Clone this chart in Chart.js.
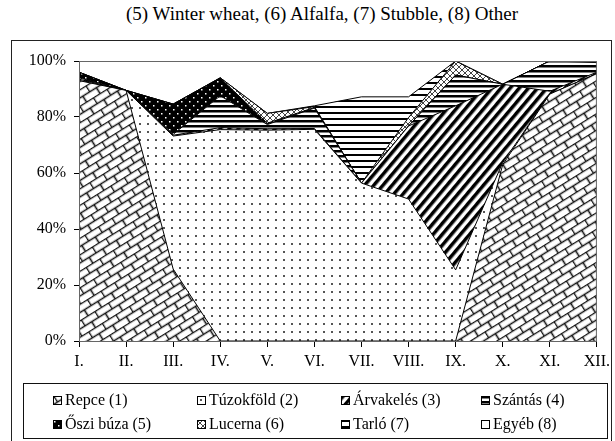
<!DOCTYPE html>
<html>
<head>
<meta charset="utf-8">
<script src="https://cdn.jsdelivr.net/npm/chart.js@4.4.1/dist/chart.umd.min.js"></script>
<style>
  body { margin: 0; width: 615px; height: 441px; overflow: hidden; background: #fff; position: relative;
         font-family: "Liberation Serif", "Times New Roman", serif; color: #000; }
  #title { position: absolute; left: 0; top: 3px; width: 644px; text-align: center; font-size: 19px; }
  #frame { position: absolute; left: 11px; top: 40px; width: 599px; height: 420px; border: 1px solid #222; }
  #wrap { position: absolute; left: 0; top: 40px; width: 615px; height: 345px; }
  #legend { position: absolute; left: 23px; top: 383px; width: 583px; height: 54px; border: 1px solid #111; font-size: 16px; }
  .item { position: absolute; display: flex; align-items: center; white-space: nowrap; }
  .item canvas { margin-right: 3px; }
</style>
</head>
<body>
<div id="title">(5) Winter wheat, (6) Alfalfa, (7) Stubble, (8) Other</div>
<div id="frame"></div>
<div id="wrap"><canvas id="chart" width="615" height="345"></canvas></div>
<div id="legend"></div>
<script>
// months
const months = ['I.', 'II.', 'III.', 'IV.', 'V.', 'VI.', 'VII.', 'VIII.', 'IX.', 'X.', 'XI.', 'XII.'];

// share of each land use per month (%)
const repce     = [93, 89.5, 25.7, 0, 0, 0, 0, 0, 0, 63, 88.2, 95.5];
const tuzokfold = [0, 0, 47.5, 75.5, 75.3, 75.6, 56.4, 50.7, 25.4, 0.7, 0, 0];
const arvakeles = [0.5, 0, 0.3, 0.7, 0.5, 0.3, 0, 26.1, 58.6, 28, 1, 0.5];
const szantas   = [0.5, 0, 0.3, 11.4, 1.5, 7.3, 0, 0, 11, 0, 10.8, 3.5];
const osziBuza  = [2, 0, 10.8, 6.3, 0.5, 0.2, 0, 0, 0, 0, 0, 0];
const lucerna   = [0, 0, 0, 0.1, 3.5, 0.3, 0, 3, 5, 0, 0, 0];
const tarlo     = [0, 0, 0, 0, 0, 0.3, 30.8, 7.4, 0, 0, 0, 0];
const egyeb     = [4, 10.5, 15.4, 6, 18.7, 16, 12.8, 12.8, 0, 8.3, 0, 0.5];

const names = ['Repce (1)', 'Túzokföld (2)', 'Árvakelés (3)', 'Szántás (4)',
               'Őszi búza (5)', 'Lucerna (6)', 'Tarló (7)', 'Egyéb (8)'];
const series = [repce, tuzokfold, arvakeles, szantas, osziBuza, lucerna, tarlo, egyeb];

const ctx = document.getElementById('chart').getContext('2d');

// small tiles for the black & white fill patterns
function tile(w, h, draw, bg) {
  const c = document.createElement('canvas');
  c.width = w; c.height = h;
  const g = c.getContext('2d');
  g.fillStyle = bg || '#fff';
  g.fillRect(0, 0, w, h);
  draw(g);
  return c;
}
function pattern(c, angle) {
  const p = ctx.createPattern(c, 'repeat');
  if (angle) p.setTransform(new DOMMatrix().rotate(angle));
  return p;
}

const brick = tile(16, 14, g => {
  g.strokeStyle = '#111'; g.lineWidth = 1.6;
  g.beginPath();
  g.moveTo(0, 0.5); g.lineTo(16, 0.5);
  g.moveTo(0, 7.5); g.lineTo(16, 7.5);
  g.moveTo(0.5, 0); g.lineTo(0.5, 7.5);
  g.moveTo(8.5, 7.5); g.lineTo(8.5, 14);
  g.stroke();
});
const dots = tile(8, 8, g => { g.fillStyle = '#555'; g.fillRect(3, 3, 2, 2); });
const diag = tile(8, 7, g => { g.fillStyle = '#000'; g.fillRect(0, 0, 8, 3.5); });
const hBold = tile(4, 5, g => { g.fillStyle = '#000'; g.fillRect(0, 0, 4, 2.5); });
const blackDots = tile(8, 8, g => { g.fillStyle = '#fff'; g.fillRect(1, 1, 1.5, 1.5); g.fillRect(5, 5, 1.5, 1.5); }, '#000');
const cross = tile(6, 6, g => {
  g.strokeStyle = '#444'; g.lineWidth = 1;
  g.beginPath(); g.moveTo(0, 0); g.lineTo(6, 6); g.moveTo(6, 0); g.lineTo(0, 6); g.stroke();
});
const hThin = tile(4, 6, g => { g.fillStyle = '#000'; g.fillRect(0, 0, 4, 2); });

const fills = [
  pattern(brick, -32),
  pattern(dots),
  pattern(diag, -50),
  pattern(hBold),
  pattern(blackDots),
  pattern(cross),
  pattern(hThin),
  '#ffffff'
];

const font = { family: '"Liberation Serif", "Times New Roman", serif', size: 16 };

// grey box round the plot area
const plotBox = {
  id: 'plotBox',
  afterDatasetsDraw(chart) {
    const { ctx: c, chartArea: a } = chart;
    c.save();
    c.strokeStyle = '#666';
    c.lineWidth = 1;
    c.strokeRect(a.left + 0.5, a.top + 0.5, a.right - a.left - 1, a.bottom - a.top);
    c.restore();
  }
};

new Chart(ctx, {
  type: 'line',
  data: {
    labels: months,
    datasets: series.map((d, i) => ({
      label: names[i],
      data: d,
      fill: i === 0 ? 'origin' : '-1',
      backgroundColor: fills[i],
      borderColor: '#000',
      borderWidth: i === 7 ? 0 : 1,
      pointRadius: 0,
      tension: 0
    }))
  },
  options: {
    responsive: false,
    animation: false,
    devicePixelRatio: 1,
    layout: { padding: { top: 21, right: 16, left: 0, bottom: 0 } },
    scales: {
      x: {
        z: 1,
        grid: { drawOnChartArea: false, tickLength: 6, color: '#000' },
        border: { color: '#000' },
        ticks: { color: '#000', font: font, padding: 5, maxRotation: 0, autoSkip: false },
        afterFit: s => { s.height = 44; }
      },
      y: {
        z: 1,
        stacked: true,
        min: 0,
        max: 100,
        grid: { drawOnChartArea: false, tickLength: 5, color: '#000' },
        border: { color: '#000' },
        ticks: { stepSize: 20, color: '#000', font: font, padding: 8, callback: v => v + '%' },
        afterFit: s => { s.width = 79; }
      }
    },
    plugins: { legend: { display: false }, title: { display: false }, tooltip: { enabled: false } }
  },
  plugins: [plotBox]
});

// legend in four columns
const legend = document.getElementById('legend');
const cols = [29, 173, 317, 457];
names.forEach((n, i) => {
  const el = document.createElement('div');
  el.className = 'item';
  el.style.left = cols[i % 4] + 'px';
  el.style.top = (i < 4 ? 7 : 31) + 'px';
  const sw = document.createElement('canvas');
  sw.width = 9; sw.height = 9;
  const g = sw.getContext('2d');
  g.fillStyle = fills[i];
  g.fillRect(0, 0, 9, 9);
  g.strokeStyle = '#000';
  g.strokeRect(0.5, 0.5, 8, 8);
  el.appendChild(sw);
  el.appendChild(document.createTextNode(n));
  legend.appendChild(el);
});
</script>
</body>
</html>
